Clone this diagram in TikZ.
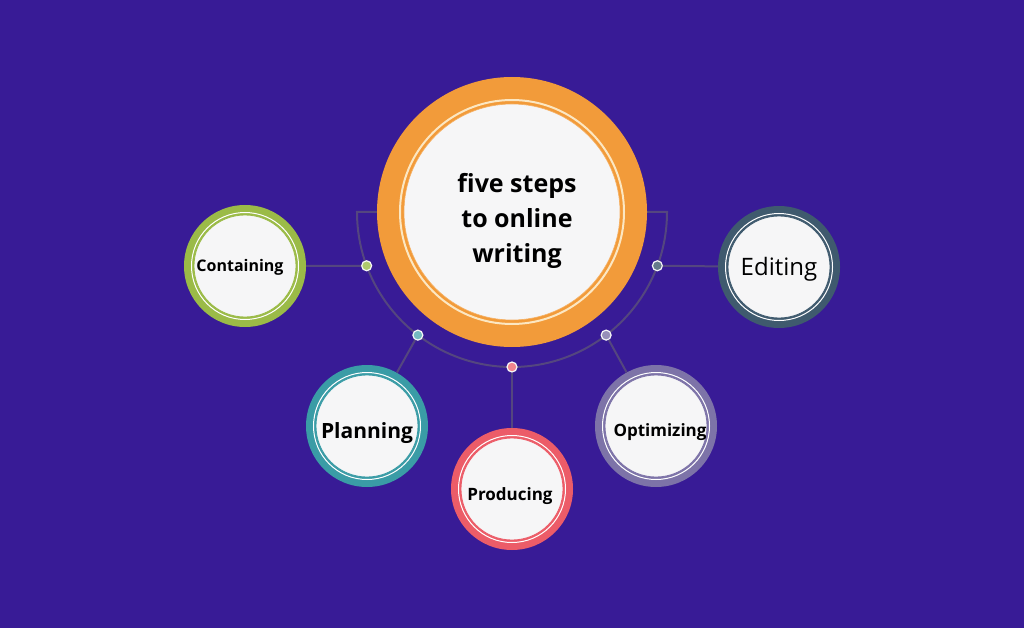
\documentclass[tikz,border=0pt]{standalone}
\usepackage{fontspec}
\setmainfont{Open Sans}
\usepackage{tikz}
\usetikzlibrary{positioning}

\definecolor{bgpurple}{HTML}{381B96}
\definecolor{linkgray}{HTML}{54467F}
\definecolor{hubor}{HTML}{F29B3A}
\definecolor{hubcream}{HTML}{FCE7C2}
\definecolor{paper}{HTML}{F6F6F7}
\definecolor{cgreen}{HTML}{9BBB47}
\definecolor{cteal}{HTML}{3A9CA6}
\definecolor{cred}{HTML}{EC5C68}
\definecolor{clav}{HTML}{7D73A8}
\definecolor{cslate}{HTML}{3F5A6E}

\tikzset{
  link/.style={draw=linkgray, line width=2pt},
  ring/.style={circle, fill=#1, minimum size=122pt, inner sep=0pt},
  face/.style={circle, fill=paper, draw=#1, line width=0.8pt, minimum size=102pt, inner sep=0pt},
  dot/.style={circle, fill=#1, draw=paper, line width=1.2pt, minimum size=10pt, inner sep=0pt},
  lbl/.style={font=\bfseries\fontsize{16}{19}\selectfont, text=black}
}

\begin{document}
\begin{tikzpicture}[x=1pt, y=1pt]
  \fill[bgpurple] (0,0) rectangle (1024,-628);   %background
  \useasboundingbox (0,0) rectangle (1024,-628);

  % half ring round the hub
  \draw[link] (380,-212) -- (357,-212) arc[start angle=180, end angle=360, radius=155] -- (644,-212);

  % hub
  \node[circle, fill=hubor, minimum size=270pt, inner sep=0pt] (hub) at (512,-212) {};
  \draw[hubcream, line width=2pt] (hub.center) circle (112);
  \node[circle, fill=paper, draw=hubor!80, line width=0.6pt, minimum size=216pt, inner sep=0pt] (hubface) at (512,-212) {};
  \node[align=center, font=\bfseries\fontsize{25}{35}\selectfont] (title) at (517,-221) {five steps\\to online\\writing};

  % outer steps
  \node[ring=cgreen] (cont) at (245,-266) {};
  \node[ring=cteal] (plan) at (367,-426) {};
  \node[ring=cred] (prod) at (512,-489) {};
  \node[ring=clav] (opti) at (656,-426) {};
  \node[ring=cslate] (edit) at (779,-267) {};

  \foreach \s/\c in {cont/cgreen, plan/cteal, prod/cred, opti/clav, edit/cslate}{
    \draw[white, line width=1pt] (\s.center) circle (53.5);
    \node[face=\c] at (\s.center) {};
  }

  \node[lbl] at ([shift={(-5pt,-1pt)}]cont.center) {Containing};
  \node[lbl, font=\bfseries\fontsize{21}{24}\selectfont] at ([yshift=-7pt]plan.center) {Planning};
  \node[lbl, font=\bfseries\fontsize{17}{20}\selectfont] at ([shift={(-2pt,-7pt)}]prod.center) {Producing};
  \node[lbl, font=\bfseries\fontsize{17}{20}\selectfont] at ([shift={(4pt,-6pt)}]opti.center) {Optimizing};
  \node[font=\fontsize{24}{28}\selectfont] at ([yshift=-2pt]edit.center) {Editing};

  % dots on the half ring
  \foreach \n/\a/\c in {dcont/200.3/cgreen!80!white, dplan/232.6/cteal!70!white, dprod/270/cred!75!white, dopti/307.4/clav!80!white, dedit/339.7/cslate!80!white}{
    \node[dot=\c] (\n) at ([shift={(\a:155)}]512,-212) {};
  }

  \draw[link] (dcont) -- (cont);
  \draw[link] (dplan) -- (plan);
  \draw[link] (dprod) -- (prod);
  \draw[link] (dopti) -- (opti);
  \draw[link] (dedit) -- (edit);
\end{tikzpicture}
\end{document}
